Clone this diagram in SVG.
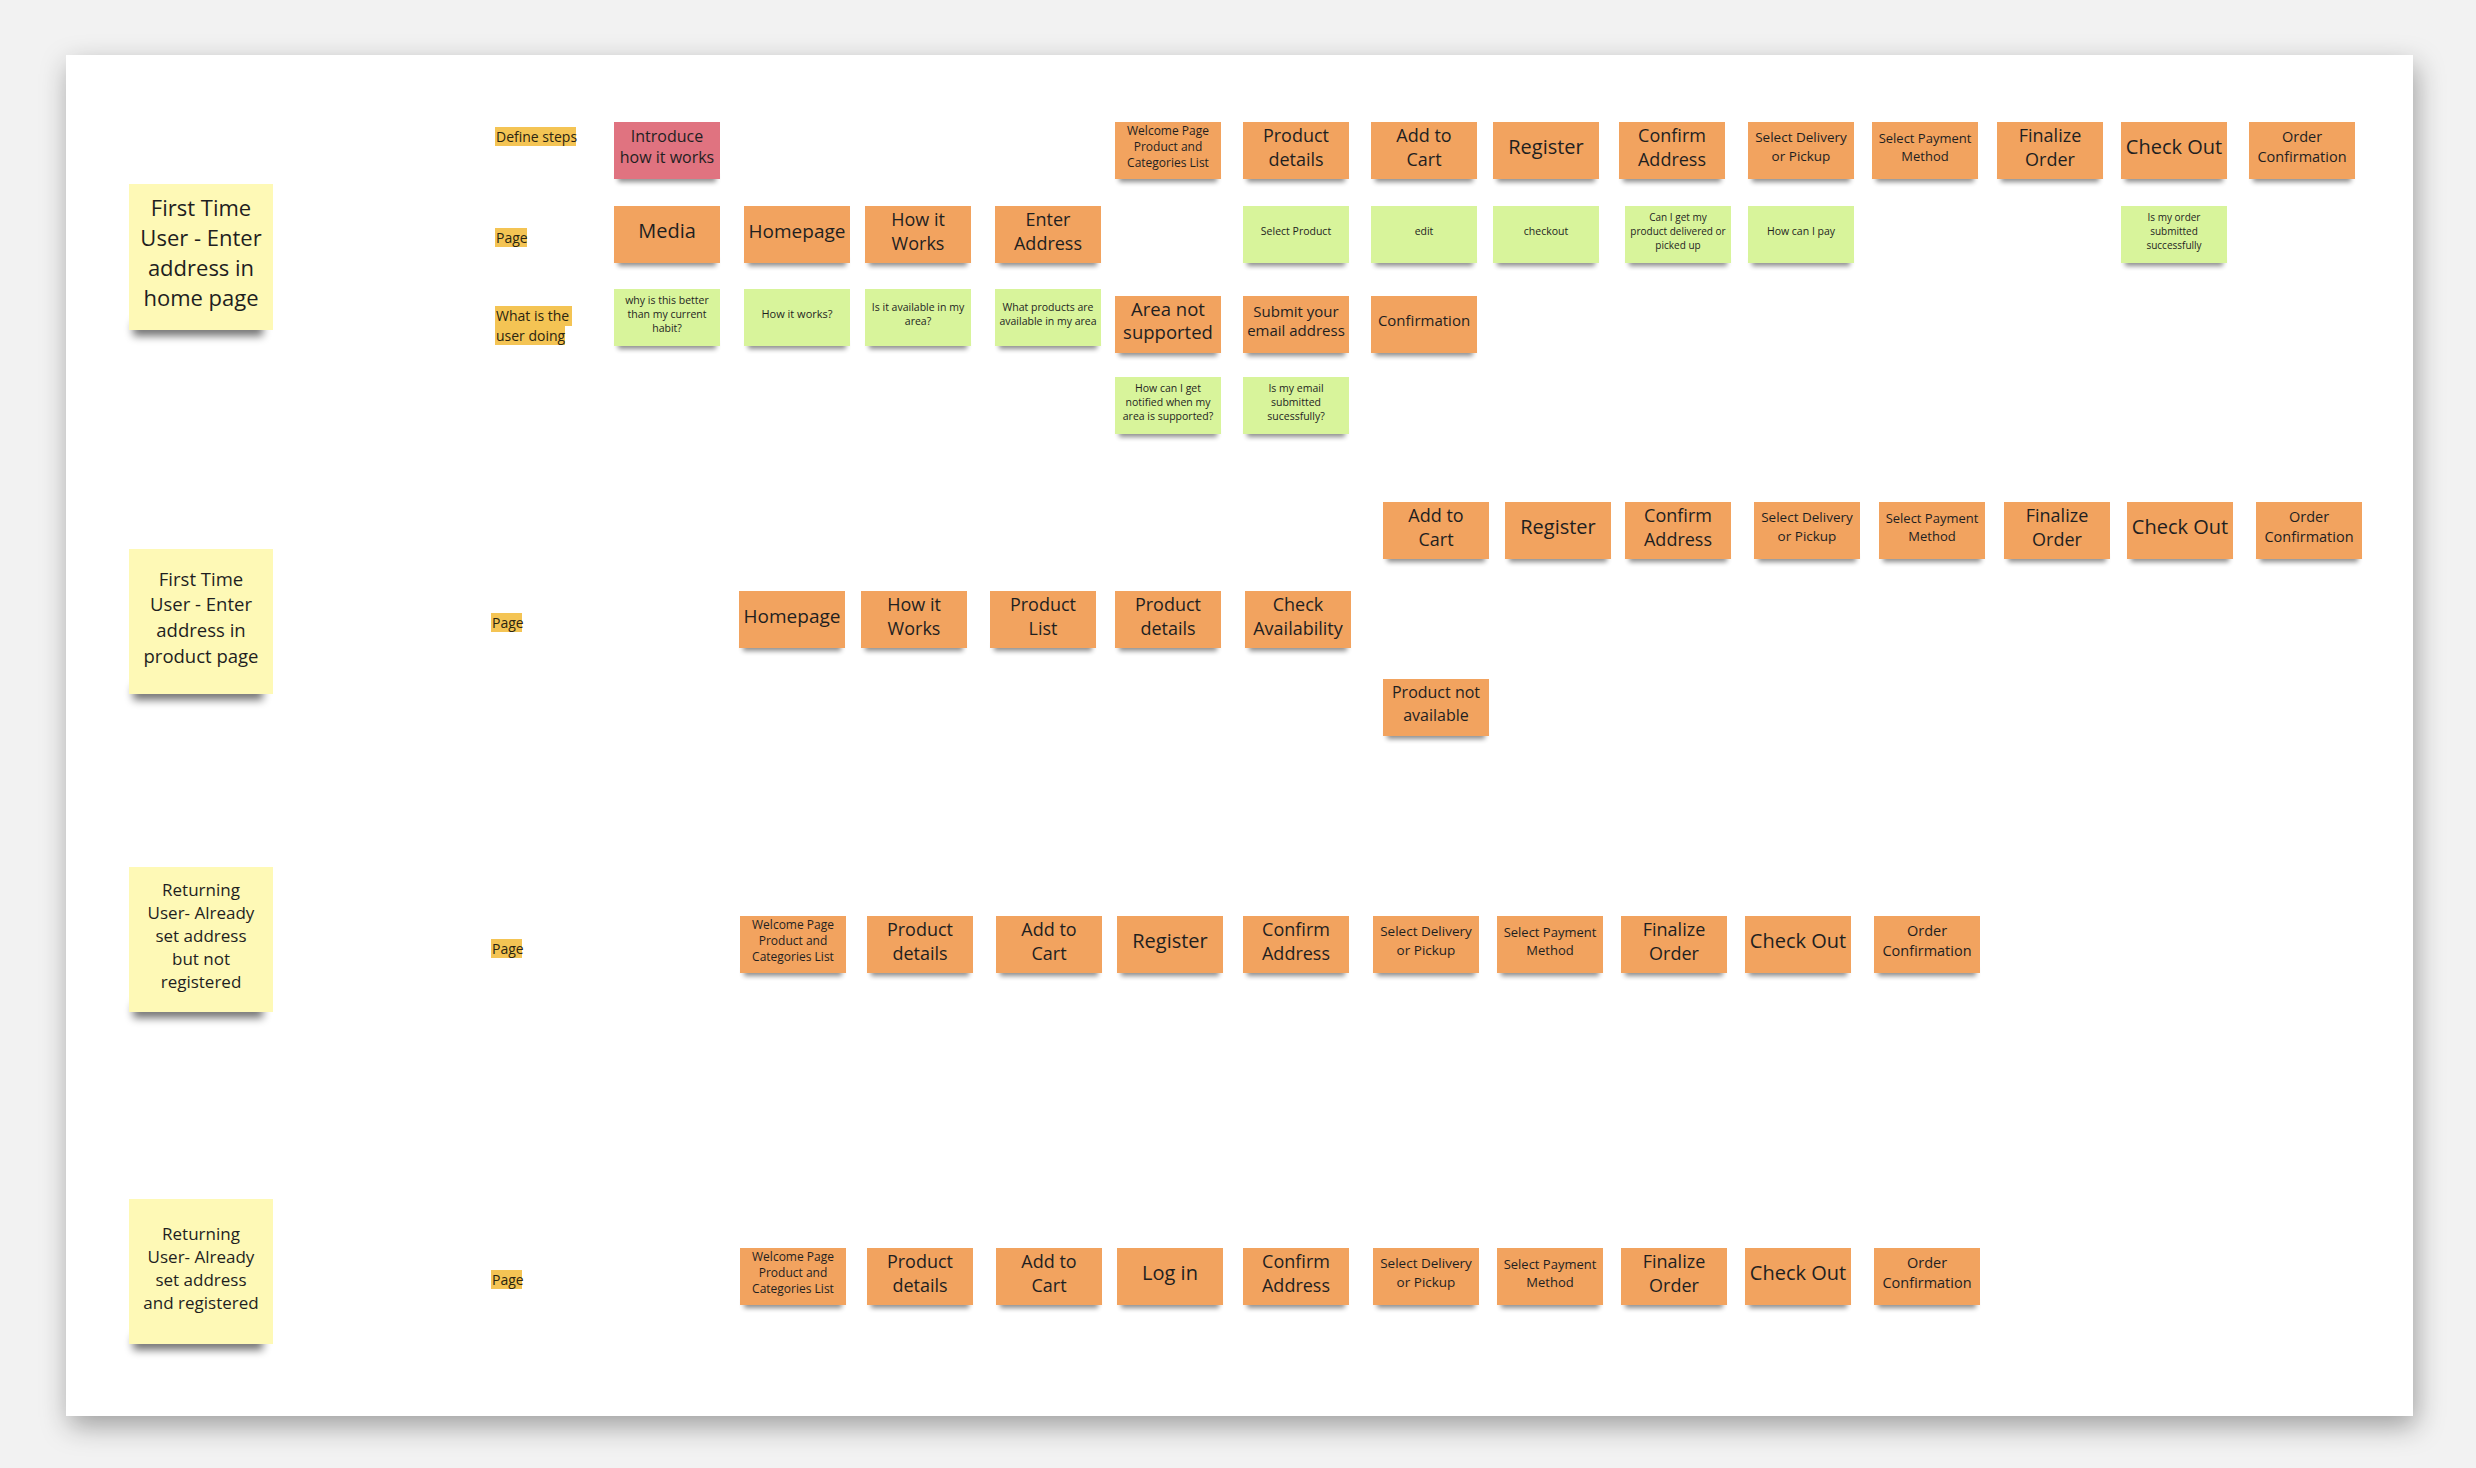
<svg xmlns="http://www.w3.org/2000/svg" width="2476" height="1468" viewBox="0 0 2476 1468">
<defs>
<filter id="ps" x="-5%" y="-5%" width="110%" height="115%"><feDropShadow dx="3" dy="10" stdDeviation="14" flood-color="#000" flood-opacity="0.35"/></filter>
<filter id="sb" x="-20%" y="-200%" width="140%" height="500%"><feGaussianBlur stdDeviation="2.5"/></filter>
<filter id="bb" x="-20%" y="-200%" width="140%" height="500%"><feGaussianBlur stdDeviation="4"/></filter>
<style>
.o{fill:#f2a35f}.g{fill:#d8f49b}.p{fill:#e07380}.y{fill:#fef9b6}
.ss{fill:#000;opacity:.45;filter:url(#sb)}
.bs{fill:#000;opacity:.55;filter:url(#bb)}
.hl{fill:#f4c454}
text{font-family:"Open Sans","Noto Sans","Liberation Sans",sans-serif;fill:#1f1f1f}
.t{text-anchor:middle}
g[id^="journey"] text{transform:translateY(-1.5px)}
.lb{font-size:14px;fill:#2b2410}
</style>
</defs>
<rect x="0" y="0" width="2476" height="1468" fill="#f2f2f2"/>
<rect id="board" x="66" y="55" width="2347" height="1361" fill="#ffffff" filter="url(#ps)"/>

<g id="labels">
<g id="lbl-define"><rect class="hl" x="495" y="127" width="81" height="19"/><text class="lb" x="496" y="141.5">Define steps</text></g>
<g id="lbl-page1"><rect class="hl" x="495" y="228" width="32" height="19"/><text class="lb" x="496" y="242.5">Page</text></g>
<g id="lbl-doing"><rect class="hl" x="495" y="306" width="77" height="20"/><rect class="hl" x="495" y="326" width="70" height="19"/><text class="lb" x="496" y="321">What is the</text><text class="lb" x="496" y="340.5">user doing</text></g>
<g id="lbl-page2"><rect class="hl" x="491" y="613" width="31" height="19"/><text class="lb" x="492" y="627.5">Page</text></g>
<g id="lbl-page3"><rect class="hl" x="491" y="939" width="31" height="19"/><text class="lb" x="492" y="953.5">Page</text></g>
<g id="lbl-page4"><rect class="hl" x="491" y="1270" width="31" height="19"/><text class="lb" x="492" y="1284.5">Page</text></g>
</g>

<g id="personas">
<g id="persona1"><rect class="bs" x="133" y="322" width="130" height="14"/><rect class="y" x="129" y="184" width="144" height="146"/>
<text class="t" font-size="22"><tspan x="201" y="215.5">First Time</tspan><tspan x="201" y="245.5">User - Enter</tspan><tspan x="201" y="275.5">address in</tspan><tspan x="201" y="305.5">home page</tspan></text></g>
<g id="persona2"><rect class="bs" x="133" y="686" width="130" height="14"/><rect class="y" x="129" y="549" width="144" height="145"/>
<text class="t" font-size="18.5"><tspan x="201" y="585.5">First Time</tspan><tspan x="201" y="611.2">User - Enter</tspan><tspan x="201" y="636.9">address in</tspan><tspan x="201" y="662.6">product page</tspan></text></g>
<g id="persona3"><rect class="bs" x="133" y="1004" width="130" height="14"/><rect class="y" x="129" y="867" width="144" height="145"/>
<text class="t" font-size="17"><tspan x="201" y="896">Returning</tspan><tspan x="201" y="919">User- Already</tspan><tspan x="201" y="942">set address</tspan><tspan x="201" y="965">but not</tspan><tspan x="201" y="988">registered</tspan></text></g>
<g id="persona4"><rect class="bs" x="133" y="1336" width="130" height="14"/><rect class="y" x="129" y="1199" width="144" height="145"/>
<text class="t" font-size="17"><tspan x="201" y="1239.5">Returning</tspan><tspan x="201" y="1262.5">User- Already</tspan><tspan x="201" y="1285.5">set address</tspan><tspan x="201" y="1308.5">and registered</tspan></text></g>
</g>

<g id="journey1">
<g id="j1-introduce"><rect class="ss" x="618" y="174" width="98" height="8"/><rect class="p" x="614" y="122" width="106" height="57"/><text class="t" font-size="16"><tspan x="667" y="143.8">Introduce</tspan><tspan x="667" y="164.8">how it works</tspan></text></g>
<g id="j1-welcome"><rect class="ss" x="1119" y="174" width="98" height="8"/><rect class="o" x="1115" y="122" width="106" height="57"/><text class="t" font-size="12"><tspan x="1168" y="136.8">Welcome Page</tspan><tspan x="1168" y="152.8">Product and</tspan><tspan x="1168" y="168.8">Categories List</tspan></text></g>
<g id="j1-product-details"><rect class="ss" x="1247" y="174" width="98" height="8"/><rect class="o" x="1243" y="122" width="106" height="57"/><text class="t" font-size="18"><tspan x="1296" y="143">Product</tspan><tspan x="1296" y="167">details</tspan></text></g>
<g id="j1-add-to-cart"><rect class="ss" x="1375" y="174" width="98" height="8"/><rect class="o" x="1371" y="122" width="106" height="57"/><text class="t" font-size="18"><tspan x="1424" y="143">Add to</tspan><tspan x="1424" y="167">Cart</tspan></text></g>
<g id="j1-register"><rect class="ss" x="1497" y="174" width="98" height="8"/><rect class="o" x="1493" y="122" width="106" height="57"/><text class="t" font-size="20" x="1546" y="155.7">Register</text></g>
<g id="j1-confirm-address"><rect class="ss" x="1623" y="174" width="98" height="8"/><rect class="o" x="1619" y="122" width="106" height="57"/><text class="t" font-size="18"><tspan x="1672" y="143">Confirm</tspan><tspan x="1672" y="167">Address</tspan></text></g>
<g id="j1-delivery"><rect class="ss" x="1752" y="174" width="98" height="8"/><rect class="o" x="1748" y="122" width="106" height="57"/><text class="t" font-size="13.5"><tspan x="1801" y="143.9">Select Delivery</tspan><tspan x="1801" y="162.9">or Pickup</tspan></text></g>
<g id="j1-payment"><rect class="ss" x="1876" y="174" width="98" height="8"/><rect class="o" x="1872" y="122" width="106" height="57"/><text class="t" font-size="13"><tspan x="1925" y="144.2">Select Payment</tspan><tspan x="1925" y="162.2">Method</tspan></text></g>
<g id="j1-finalize"><rect class="ss" x="2001" y="174" width="98" height="8"/><rect class="o" x="1997" y="122" width="106" height="57"/><text class="t" font-size="18"><tspan x="2050" y="143">Finalize</tspan><tspan x="2050" y="167">Order</tspan></text></g>
<g id="j1-checkout"><rect class="ss" x="2125" y="174" width="98" height="8"/><rect class="o" x="2121" y="122" width="106" height="57"/><text class="t" font-size="20" x="2174" y="155.7">Check Out</text></g>
<g id="j1-order-confirmation"><rect class="ss" x="2253" y="174" width="98" height="8"/><rect class="o" x="2249" y="122" width="106" height="57"/><text class="t" font-size="14.5"><tspan x="2302" y="143.7">Order</tspan><tspan x="2302" y="163.7">Confirmation</tspan></text></g>

<g id="j1-media"><rect class="ss" x="618" y="258" width="98" height="8"/><rect class="o" x="614" y="206" width="106" height="57"/><text class="t" font-size="20" x="667" y="239.7">Media</text></g>
<g id="j1-homepage"><rect class="ss" x="748" y="258" width="98" height="8"/><rect class="o" x="744" y="206" width="106" height="57"/><text class="t" font-size="19" x="797" y="239.3">Homepage</text></g>
<g id="j1-how-it-works"><rect class="ss" x="869" y="258" width="98" height="8"/><rect class="o" x="865" y="206" width="106" height="57"/><text class="t" font-size="18"><tspan x="918" y="227">How it</tspan><tspan x="918" y="251">Works</tspan></text></g>
<g id="j1-enter-address"><rect class="ss" x="999" y="258" width="98" height="8"/><rect class="o" x="995" y="206" width="106" height="57"/><text class="t" font-size="18"><tspan x="1048" y="227">Enter</tspan><tspan x="1048" y="251">Address</tspan></text></g>
<g id="j1-select-product"><rect class="ss" x="1247" y="258" width="98" height="8"/><rect class="g" x="1243" y="206" width="106" height="57"/><text class="t" font-size="10.5" x="1296" y="236.3">Select Product</text></g>
<g id="j1-edit"><rect class="ss" x="1375" y="258" width="98" height="8"/><rect class="g" x="1371" y="206" width="106" height="57"/><text class="t" font-size="10.5" x="1424" y="236.3">edit</text></g>
<g id="j1-checkout-q"><rect class="ss" x="1497" y="258" width="98" height="8"/><rect class="g" x="1493" y="206" width="106" height="57"/><text class="t" font-size="10.5" x="1546" y="236.3">checkout</text></g>
<g id="j1-delivered-q"><rect class="ss" x="1629" y="258" width="98" height="8"/><rect class="g" x="1625" y="206" width="106" height="57"/><text class="t" font-size="10"><tspan x="1678" y="222.1">Can I get my</tspan><tspan x="1678" y="236.1">product delivered or</tspan><tspan x="1678" y="250.1">picked up</tspan></text></g>
<g id="j1-pay-q"><rect class="ss" x="1752" y="258" width="98" height="8"/><rect class="g" x="1748" y="206" width="106" height="57"/><text class="t" font-size="10.5" x="1801" y="236.3">How can I pay</text></g>
<g id="j1-order-q"><rect class="ss" x="2125" y="258" width="98" height="8"/><rect class="g" x="2121" y="206" width="106" height="57"/><text class="t" font-size="10"><tspan x="2174" y="222.1">Is my order</tspan><tspan x="2174" y="236.1">submitted</tspan><tspan x="2174" y="250.1">successfully</tspan></text></g>

<g id="j1-better-q"><rect class="ss" x="618" y="341" width="98" height="8"/><rect class="g" x="614" y="289" width="106" height="57"/><text class="t" font-size="10.5"><tspan x="667" y="305.3">why is this better</tspan><tspan x="667" y="319.3">than my current</tspan><tspan x="667" y="333.3">habit?</tspan></text></g>
<g id="j1-how-q"><rect class="ss" x="748" y="341" width="98" height="8"/><rect class="g" x="744" y="289" width="106" height="57"/><text class="t" font-size="11" x="797" y="319.5">How it works?</text></g>
<g id="j1-available-q"><rect class="ss" x="869" y="341" width="98" height="8"/><rect class="g" x="865" y="289" width="106" height="57"/><text class="t" font-size="10.5"><tspan x="918" y="312.3">Is it available in my</tspan><tspan x="918" y="326.3">area?</tspan></text></g>
<g id="j1-products-q"><rect class="ss" x="999" y="341" width="98" height="8"/><rect class="g" x="995" y="289" width="106" height="57"/><text class="t" font-size="10.5"><tspan x="1048" y="312.3">What products are</tspan><tspan x="1048" y="326.3">available in my area</tspan></text></g>
<g id="j1-area-not-supported"><rect class="ss" x="1119" y="348" width="98" height="8"/><rect class="o" x="1115" y="296" width="106" height="57"/><text class="t" font-size="18.5"><tspan x="1168" y="317.7">Area not</tspan><tspan x="1168" y="340.7">supported</tspan></text></g>
<g id="j1-submit-email"><rect class="ss" x="1247" y="348" width="98" height="8"/><rect class="o" x="1243" y="296" width="106" height="57"/><text class="t" font-size="15"><tspan x="1296" y="318.4">Submit your</tspan><tspan x="1296" y="337.4">email address</tspan></text></g>
<g id="j1-confirmation"><rect class="ss" x="1375" y="348" width="98" height="8"/><rect class="o" x="1371" y="296" width="106" height="57"/><text class="t" font-size="15" x="1424" y="327.9">Confirmation</text></g>

<g id="j1-notified-q"><rect class="ss" x="1119" y="429" width="98" height="8"/><rect class="g" x="1115" y="377" width="106" height="57"/><text class="t" font-size="10.5"><tspan x="1168" y="393.3">How can I get</tspan><tspan x="1168" y="407.3">notified when my</tspan><tspan x="1168" y="421.3">area is supported?</tspan></text></g>
<g id="j1-email-q"><rect class="ss" x="1247" y="429" width="98" height="8"/><rect class="g" x="1243" y="377" width="106" height="57"/><text class="t" font-size="10.5"><tspan x="1296" y="393.3">Is my email</tspan><tspan x="1296" y="407.3">submitted</tspan><tspan x="1296" y="421.3">sucessfully?</tspan></text></g>
</g>

<g id="journey2">
<g id="j2-add-to-cart"><rect class="ss" x="1387" y="554" width="98" height="8"/><rect class="o" x="1383" y="502" width="106" height="57"/><text class="t" font-size="18"><tspan x="1436" y="523">Add to</tspan><tspan x="1436" y="547">Cart</tspan></text></g>
<g id="j2-register"><rect class="ss" x="1509" y="554" width="98" height="8"/><rect class="o" x="1505" y="502" width="106" height="57"/><text class="t" font-size="20" x="1558" y="535.7">Register</text></g>
<g id="j2-confirm-address"><rect class="ss" x="1629" y="554" width="98" height="8"/><rect class="o" x="1625" y="502" width="106" height="57"/><text class="t" font-size="18"><tspan x="1678" y="523">Confirm</tspan><tspan x="1678" y="547">Address</tspan></text></g>
<g id="j2-delivery"><rect class="ss" x="1758" y="554" width="98" height="8"/><rect class="o" x="1754" y="502" width="106" height="57"/><text class="t" font-size="13.5"><tspan x="1807" y="523.9">Select Delivery</tspan><tspan x="1807" y="542.9">or Pickup</tspan></text></g>
<g id="j2-payment"><rect class="ss" x="1883" y="554" width="98" height="8"/><rect class="o" x="1879" y="502" width="106" height="57"/><text class="t" font-size="13"><tspan x="1932" y="524.2">Select Payment</tspan><tspan x="1932" y="542.2">Method</tspan></text></g>
<g id="j2-finalize"><rect class="ss" x="2008" y="554" width="98" height="8"/><rect class="o" x="2004" y="502" width="106" height="57"/><text class="t" font-size="18"><tspan x="2057" y="523">Finalize</tspan><tspan x="2057" y="547">Order</tspan></text></g>
<g id="j2-checkout"><rect class="ss" x="2131" y="554" width="98" height="8"/><rect class="o" x="2127" y="502" width="106" height="57"/><text class="t" font-size="20" x="2180" y="535.7">Check Out</text></g>
<g id="j2-order-confirmation"><rect class="ss" x="2260" y="554" width="98" height="8"/><rect class="o" x="2256" y="502" width="106" height="57"/><text class="t" font-size="14.5"><tspan x="2309" y="523.7">Order</tspan><tspan x="2309" y="543.7">Confirmation</tspan></text></g>
<g id="j2-homepage"><rect class="ss" x="743" y="643" width="98" height="8"/><rect class="o" x="739" y="591" width="106" height="57"/><text class="t" font-size="19" x="792" y="624.3">Homepage</text></g>
<g id="j2-how-it-works"><rect class="ss" x="865" y="643" width="98" height="8"/><rect class="o" x="861" y="591" width="106" height="57"/><text class="t" font-size="18"><tspan x="914" y="612">How it</tspan><tspan x="914" y="636">Works</tspan></text></g>
<g id="j2-product-list"><rect class="ss" x="994" y="643" width="98" height="8"/><rect class="o" x="990" y="591" width="106" height="57"/><text class="t" font-size="18"><tspan x="1043" y="612">Product</tspan><tspan x="1043" y="636">List</tspan></text></g>
<g id="j2-product-details"><rect class="ss" x="1119" y="643" width="98" height="8"/><rect class="o" x="1115" y="591" width="106" height="57"/><text class="t" font-size="18"><tspan x="1168" y="612">Product</tspan><tspan x="1168" y="636">details</tspan></text></g>
<g id="j2-check-availability"><rect class="ss" x="1249" y="643" width="98" height="8"/><rect class="o" x="1245" y="591" width="106" height="57"/><text class="t" font-size="18"><tspan x="1298" y="612">Check</tspan><tspan x="1298" y="636">Availability</tspan></text></g>
<g id="j2-not-available"><rect class="ss" x="1387" y="731" width="98" height="8"/><rect class="o" x="1383" y="679" width="106" height="57"/><text class="t" font-size="16"><tspan x="1436" y="699.8">Product not</tspan><tspan x="1436" y="722.8">available</tspan></text></g>
</g>

<g id="journey3">
<g id="j3-welcome"><rect class="ss" x="744" y="968" width="98" height="8"/><rect class="o" x="740" y="916" width="106" height="57"/><text class="t" font-size="12"><tspan x="793" y="930.8">Welcome Page</tspan><tspan x="793" y="946.8">Product and</tspan><tspan x="793" y="962.8">Categories List</tspan></text></g>
<g id="j3-product-details"><rect class="ss" x="871" y="968" width="98" height="8"/><rect class="o" x="867" y="916" width="106" height="57"/><text class="t" font-size="18"><tspan x="920" y="937">Product</tspan><tspan x="920" y="961">details</tspan></text></g>
<g id="j3-add-to-cart"><rect class="ss" x="1000" y="968" width="98" height="8"/><rect class="o" x="996" y="916" width="106" height="57"/><text class="t" font-size="18"><tspan x="1049" y="937">Add to</tspan><tspan x="1049" y="961">Cart</tspan></text></g>
<g id="j3-register"><rect class="ss" x="1121" y="968" width="98" height="8"/><rect class="o" x="1117" y="916" width="106" height="57"/><text class="t" font-size="20" x="1170" y="949.7">Register</text></g>
<g id="j3-confirm-address"><rect class="ss" x="1247" y="968" width="98" height="8"/><rect class="o" x="1243" y="916" width="106" height="57"/><text class="t" font-size="18"><tspan x="1296" y="937">Confirm</tspan><tspan x="1296" y="961">Address</tspan></text></g>
<g id="j3-delivery"><rect class="ss" x="1377" y="968" width="98" height="8"/><rect class="o" x="1373" y="916" width="106" height="57"/><text class="t" font-size="13.5"><tspan x="1426" y="937.9">Select Delivery</tspan><tspan x="1426" y="956.9">or Pickup</tspan></text></g>
<g id="j3-payment"><rect class="ss" x="1501" y="968" width="98" height="8"/><rect class="o" x="1497" y="916" width="106" height="57"/><text class="t" font-size="13"><tspan x="1550" y="938.2">Select Payment</tspan><tspan x="1550" y="956.2">Method</tspan></text></g>
<g id="j3-finalize"><rect class="ss" x="1625" y="968" width="98" height="8"/><rect class="o" x="1621" y="916" width="106" height="57"/><text class="t" font-size="18"><tspan x="1674" y="937">Finalize</tspan><tspan x="1674" y="961">Order</tspan></text></g>
<g id="j3-checkout"><rect class="ss" x="1749" y="968" width="98" height="8"/><rect class="o" x="1745" y="916" width="106" height="57"/><text class="t" font-size="20" x="1798" y="949.7">Check Out</text></g>
<g id="j3-order-confirmation"><rect class="ss" x="1878" y="968" width="98" height="8"/><rect class="o" x="1874" y="916" width="106" height="57"/><text class="t" font-size="14.5"><tspan x="1927" y="937.7">Order</tspan><tspan x="1927" y="957.7">Confirmation</tspan></text></g>
</g>

<g id="journey4">
<g id="j4-welcome"><rect class="ss" x="744" y="1300" width="98" height="8"/><rect class="o" x="740" y="1248" width="106" height="57"/><text class="t" font-size="12"><tspan x="793" y="1262.8">Welcome Page</tspan><tspan x="793" y="1278.8">Product and</tspan><tspan x="793" y="1294.8">Categories List</tspan></text></g>
<g id="j4-product-details"><rect class="ss" x="871" y="1300" width="98" height="8"/><rect class="o" x="867" y="1248" width="106" height="57"/><text class="t" font-size="18"><tspan x="920" y="1269">Product</tspan><tspan x="920" y="1293">details</tspan></text></g>
<g id="j4-add-to-cart"><rect class="ss" x="1000" y="1300" width="98" height="8"/><rect class="o" x="996" y="1248" width="106" height="57"/><text class="t" font-size="18"><tspan x="1049" y="1269">Add to</tspan><tspan x="1049" y="1293">Cart</tspan></text></g>
<g id="j4-login"><rect class="ss" x="1121" y="1300" width="98" height="8"/><rect class="o" x="1117" y="1248" width="106" height="57"/><text class="t" font-size="20" x="1170" y="1281.7">Log in</text></g>
<g id="j4-confirm-address"><rect class="ss" x="1247" y="1300" width="98" height="8"/><rect class="o" x="1243" y="1248" width="106" height="57"/><text class="t" font-size="18"><tspan x="1296" y="1269">Confirm</tspan><tspan x="1296" y="1293">Address</tspan></text></g>
<g id="j4-delivery"><rect class="ss" x="1377" y="1300" width="98" height="8"/><rect class="o" x="1373" y="1248" width="106" height="57"/><text class="t" font-size="13.5"><tspan x="1426" y="1269.9">Select Delivery</tspan><tspan x="1426" y="1288.9">or Pickup</tspan></text></g>
<g id="j4-payment"><rect class="ss" x="1501" y="1300" width="98" height="8"/><rect class="o" x="1497" y="1248" width="106" height="57"/><text class="t" font-size="13"><tspan x="1550" y="1270.2">Select Payment</tspan><tspan x="1550" y="1288.2">Method</tspan></text></g>
<g id="j4-finalize"><rect class="ss" x="1625" y="1300" width="98" height="8"/><rect class="o" x="1621" y="1248" width="106" height="57"/><text class="t" font-size="18"><tspan x="1674" y="1269">Finalize</tspan><tspan x="1674" y="1293">Order</tspan></text></g>
<g id="j4-checkout"><rect class="ss" x="1749" y="1300" width="98" height="8"/><rect class="o" x="1745" y="1248" width="106" height="57"/><text class="t" font-size="20" x="1798" y="1281.7">Check Out</text></g>
<g id="j4-order-confirmation"><rect class="ss" x="1878" y="1300" width="98" height="8"/><rect class="o" x="1874" y="1248" width="106" height="57"/><text class="t" font-size="14.5"><tspan x="1927" y="1269.7">Order</tspan><tspan x="1927" y="1289.7">Confirmation</tspan></text></g>
</g>

<g id="connectors"/>
</svg>
